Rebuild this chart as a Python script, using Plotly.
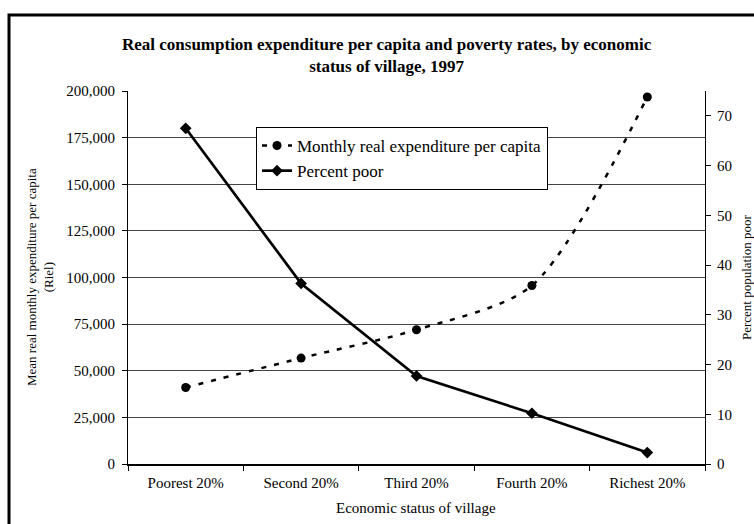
import plotly.graph_objects as go

categories = ["Poorest 20%", "Second 20%", "Third 20%", "Fourth 20%", "Richest 20%"]
expenditure = [41000, 56800, 72000, 95700, 196800]
percent_poor = [67.5, 36.3, 17.7, 10.2, 2.3]

left_ticks = list(range(0, 200001, 25000))
right_ticks = list(range(0, 71, 10))

FONT = "Liberation Serif"
L, R, T, B = 128, 49, 91, 60
W, H = 754, 524
pw, ph = W - L - R, H - T - B

def px_x(x):
    return (x - L) / pw

def px_y(y):
    return (H - B - y) / ph

fig = go.Figure()
fig.add_trace(go.Scatter(
    x=categories, y=expenditure, name="Monthly real expenditure per capita",
    mode="lines+markers", line=dict(color="black", width=2.5, dash="5px,8px", shape="spline", smoothing=0.8),
    marker=dict(symbol="circle", size=9, color="black"), legendgroup="a", yaxis="y"))
fig.add_trace(go.Scatter(
    x=categories, y=percent_poor, name="Percent poor",
    mode="lines+markers", line=dict(color="black", width=2.7),
    marker=dict(symbol="diamond", size=9, color="black"), legendgroup="b", yaxis="y2"))

fig.update_layout(
    width=W, height=H, margin=dict(l=L, r=R, t=T, b=B),
    paper_bgcolor="white", plot_bgcolor="white",
    font=dict(family=FONT, size=15, color="black"),
    showlegend=True,
    legend=dict(x=px_x(256), y=px_y(127), xanchor="left", yanchor="top",
                bgcolor="white", bordercolor="black", borderwidth=1,
                font=dict(family=FONT, size=17, color="black"),
                tracegroupgap=0, itemwidth=30),
    xaxis=dict(type="category", tickson="boundaries", ticks="outside", ticklen=5,
               tickcolor="black", showline=True, linecolor="black", linewidth=1.5,
               showgrid=False, tickfont=dict(family=FONT, size=15), range=[-0.5, 4.5],
               ticklabelstandoff=4),
    yaxis=dict(range=[0, 200000], tickvals=left_ticks, tickformat=",", ticks="outside",
               ticklen=5, tickcolor="black", showline=True, linecolor="black", linewidth=1,
               showgrid=True, gridcolor="#444444", gridwidth=1, zeroline=False,
               tickfont=dict(family=FONT, size=15), ticklabelstandoff=4),
    yaxis2=dict(range=[0, 75], tickvals=right_ticks, overlaying="y", side="right",
                anchor="x", ticks="outside", ticklen=5, tickcolor="black",
                showline=True, linecolor="black", linewidth=1, showgrid=False,
                zeroline=False, tickfont=dict(family=FONT, size=15), ticklabelstandoff=3),
    yaxis3=dict(range=[0, 75], tickvals=right_ticks, overlaying="y", side="right",
                anchor="x", ticks="inside", ticklen=5, tickcolor="black",
                showline=False, showgrid=False, zeroline=False, showticklabels=False),
)

fig.add_annotation(text="<b>Real consumption expenditure per capita and poverty rates, by economic<br>status of village, 1997</b>",
                   x=px_x(387), y=px_y(56), xref="paper", yref="paper", showarrow=False,
                   xanchor="center", yanchor="middle", font=dict(family=FONT, size=17))
fig.add_annotation(text="Mean real monthly expenditure per capita<br>(Riel)",
                   x=px_x(40), y=px_y(277), xref="paper", yref="paper", showarrow=False,
                   textangle=-90, xanchor="center", yanchor="middle", font=dict(family=FONT, size=13))
fig.add_annotation(text="Percent population poor",
                   x=px_x(746), y=px_y(277), xref="paper", yref="paper", showarrow=False,
                   textangle=-90, xanchor="center", yanchor="middle", font=dict(family=FONT, size=13))
fig.add_annotation(text="Economic status of village",
                   x=px_x(416), y=px_y(508), xref="paper", yref="paper", showarrow=False,
                   xanchor="center", yanchor="middle", font=dict(family=FONT, size=15))

fig.add_shape(type="rect", xref="paper", yref="paper",
              x0=px_x(9), x1=px_x(780), y0=px_y(545), y1=px_y(15),
              line=dict(color="black", width=3), fillcolor="rgba(0,0,0,0)", layer="above")

fig.write_html("out.html", config={"displayModeBar": False},
               post_script="document.body.style.margin='0';document.body.style.overflow='hidden';")
